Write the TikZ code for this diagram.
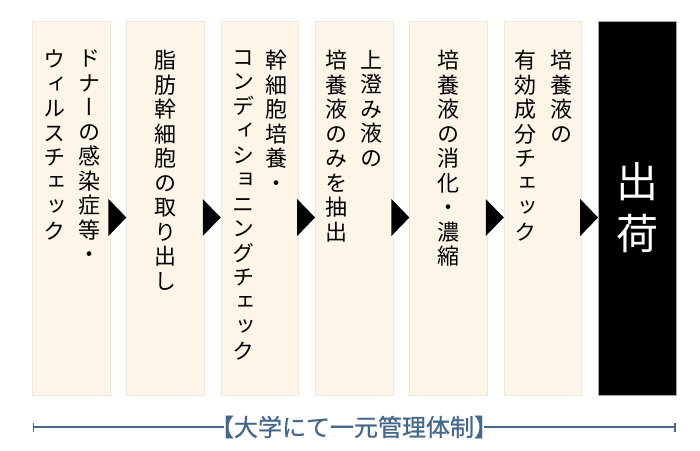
\documentclass[tikz,border=0pt]{standalone}
\usepackage{fontspec}
\usetikzlibrary{arrows.meta}
\newfontfamily\jpfont[RawFeature=+halt, FakeBold=0.8]{Noto Sans CJK JP}
\newfontfamily\tatefont[RawFeature=+vert]{Noto Sans CJK JP}
\definecolor{boxfill}{HTML}{FDF5E8}
\definecolor{boxedge}{HTML}{EFE7DA}
\definecolor{mgmtblue}{HTML}{44678B}
% one character under the other
\newcommand\tatecol[1]{\vtop{\tatestep#1\relax}}
\def\tatestep#1{\ifx\relax#1\else\hbox to 1em{\hss#1\hss}\expandafter\tatestep\fi}
\tikzset{
  stepbox/.style={draw=boxedge, fill=boxfill, minimum width=77.5pt, minimum height=374pt, inner sep=0pt},
  shipbox/.style={draw=gray!70, fill=black, minimum width=77.5pt, minimum height=374pt, inner sep=0pt},
  col/.style={anchor=north, inner sep=0pt, font=\tatefont\fontsize{22}{24.5}\selectfont},
  rangeline/.style={draw=mgmtblue, line width=1.8pt}
}
\begin{document}
\begin{tikzpicture}[x=1pt, y=-1pt]
\useasboundingbox (0,0) rectangle (700,450);
\node [stepbox] (b1) at (71,208) {};
\node [stepbox] (b2) at (165.3,208) {};
\node [stepbox] (b3) at (259.7,208) {};
\node [stepbox] (b4) at (354,208) {};
\node [stepbox] (b5) at (448.3,208) {};
\node [stepbox] (b6) at (542.7,208) {};
\node [shipbox] (b7) at (637,208) {};
% texts, right column first
\node [col] (t1a) at (89,50) {\tatecol{ドナーの感染症等・}};
\node [col] (t1b) at (54,50) {\tatecol{ウィルスチェック}};
\node [col] (t2) at (165.3,50) {\tatecol{脂肪幹細胞の取り出し}};
\node [col] (t3a) at (276.5,50) {\tatecol{幹細胞培養・}};
\node [col] (t3b) at (243.5,50) {\tatecol{コンディショニングチェック}};
\node [col] (t4a) at (371.5,50) {\tatecol{上澄み液の}};
\node [col] (t4b) at (336.5,50) {\tatecol{培養液のみを抽出}};
\node [col] (t5) at (448.3,50) {\tatecol{培養液の消化・濃縮}};
\node [col] (t6a) at (561,50) {\tatecol{培養液の}};
\node [col] (t6b) at (525,50) {\tatecol{有効成分チェック}};
\node [col, text=white, font=\tatefont\fontsize{42}{52}\selectfont] (t7) at (637,162) {\tatecol{出荷}};
% arrows between the steps
\fill [black] ([shift={(-1.5,-9)}]b1.east) -- ([shift={(0,9.5)}]b2.west) -- ([shift={(-1.5,28)}]b1.east) -- cycle;
\fill [black] ([shift={(-1.5,-9)}]b2.east) -- ([shift={(0,9.5)}]b3.west) -- ([shift={(-1.5,28)}]b2.east) -- cycle;
\fill [black] ([shift={(-1.5,-9)}]b3.east) -- ([shift={(0,9.5)}]b4.west) -- ([shift={(-1.5,28)}]b3.east) -- cycle;
\fill [black] ([shift={(-1.5,-9)}]b4.east) -- ([shift={(0,9.5)}]b5.west) -- ([shift={(-1.5,28)}]b4.east) -- cycle;
\fill [black] ([shift={(-1.5,-9)}]b5.east) -- ([shift={(0,9.5)}]b6.west) -- ([shift={(-1.5,28)}]b5.east) -- cycle;
\fill [black] ([shift={(-1.5,-9)}]b6.east) -- ([shift={(0,9.5)}]b7.west) -- ([shift={(-1.5,28)}]b6.east) -- cycle;
% management range
\coordinate (r0) at (32.5,427);
\coordinate (r1) at (675.5,427);
\node [inner sep=0pt, text=mgmtblue, font=\jpfont\fontsize{24}{28}\selectfont] (lbl) at (354,427) {【大学にて一元管理体制】};
\draw [rangeline, {Bar[width=9pt]}-] (r0) -- ([xshift=2pt]lbl.west);
\draw [rangeline, -{Bar[width=9pt]}] ([xshift=-2pt]lbl.east) -- (r1);
\end{tikzpicture}
\end{document}
